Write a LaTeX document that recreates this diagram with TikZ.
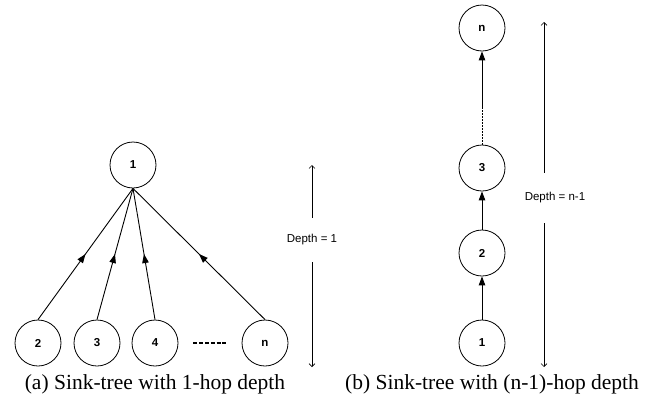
\documentclass[tikz,border=0pt]{standalone}
\usepackage{fontspec}
\setmainfont{Liberation Serif}
\setsansfont{Liberation Sans}
\usetikzlibrary{arrows.meta,decorations.markings}

\begin{document}
\begin{tikzpicture}[x=1pt, y=-1pt,
    vertex/.style={circle, draw, line width=0.8pt, minimum size=46pt, inner sep=0pt,
        font=\sffamily\bfseries\fontsize{11.5}{13}\selectfont},
    uplink/.style={line width=0.9pt, -{Triangle[length=9pt,width=6.5pt]}},
    midlink/.style={line width=0.9pt, postaction={decorate},
        decoration={markings, mark=at position 0.5 with {\arrow{Triangle[length=9pt,width=6.5pt]}}}},
    span/.style={line width=0.6pt, -{Straight Barb[length=3pt,width=6pt]}},
    depthlabel/.style={font=\sffamily\fontsize{11.5}{13}\selectfont, inner sep=0pt},
    caption/.style={font=\fontsize{21.5}{24}\selectfont, inner sep=0pt}]
    \useasboundingbox (0,0) rectangle (645,402);

    % (a) sink-tree, one hop
    \node[vertex] (l1) at (133,165) {1};
    \node[vertex] (l2) at (38,343) {2};
    \node[vertex] (l3) at (97,343) {3};
    \node[vertex] (l4) at (155,343) {4};
    \node[vertex] (ln) at (265,343) {n};
    \foreach \leaf in {l2,l3,l4,ln}
        \draw[midlink] (\leaf.north) -- (l1.south);
    \draw[line width=1.5pt, dash pattern=on 4pt off 1.8pt, shorten <=15pt, shorten >=15pt] (l4) -- (ln);

    % depth marker (a)
    \coordinate (ltop) at (312,165);
    \coordinate (lbot) at (312,367);
    \node[depthlabel, minimum height=44pt] (ldepth) at (312,240) {Depth = 1};
    \draw[span] (ldepth.north) -- (ltop);
    \draw[span] (ldepth.south) -- (lbot);

    % (b) sink-tree, chain of n-1 hops
    \node[vertex] (r1) at (482,343) {1};
    \node[vertex] (r2) at (482,253) {2};
    \node[vertex] (r3) at (482,168) {3};
    \node[vertex] (rn) at (482,28) {n};
    \coordinate (rgap) at (482,107);
    \draw[uplink] (r1) -- (r2);
    \draw[uplink] (r2) -- (r3);
    \draw[line width=0.8pt, dash pattern=on 2pt off 1pt] (r3) -- (rgap);
    \draw[uplink] (rgap) -- (rn);

    % depth marker (b)
    \coordinate (rtop) at (544,22);
    \coordinate (rbot) at (544,367);
    \node[depthlabel, minimum height=50pt] (rdepth) at (555,198) {Depth = n-1};
    \draw[span] (rdepth.north -| rtop) -- (rtop);
    \draw[span] (rdepth.south -| rbot) -- (rbot);

    % captions
    \node[caption] (capa) at (155,384) {(a) Sink-tree with 1-hop depth};
    \node[caption] (capb) at (492,384) {(b) Sink-tree with (n-1)-hop depth};
\end{tikzpicture}
\end{document}
